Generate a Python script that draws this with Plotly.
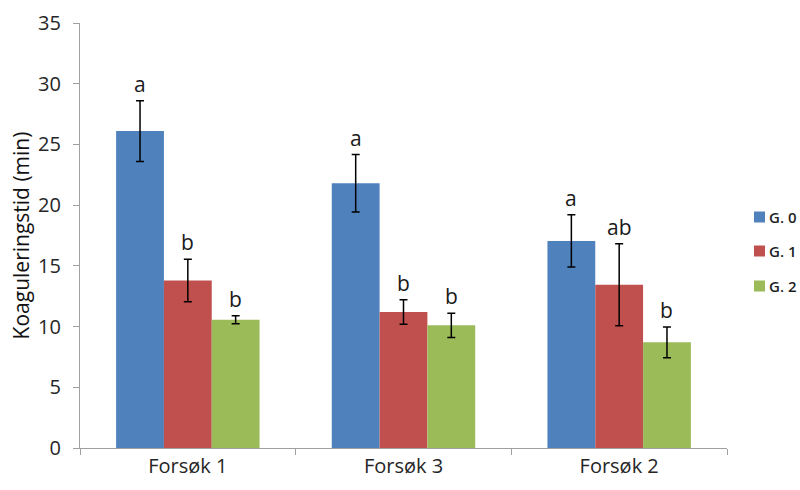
import plotly.graph_objects as go

categories = ["Forsøk 1", "Forsøk 3", "Forsøk 2"]
series_names = ["G. 0", "G. 1", "G. 2"]
values = {
    "G. 0": [26.1, 21.8, 17.05],
    "G. 1": [13.8, 11.2, 13.45],
    "G. 2": [10.57, 10.1, 8.7],
}
errors = {
    "G. 0": [2.5, 2.37, 2.15],
    "G. 1": [1.75, 1.0, 3.38],
    "G. 2": [0.33, 1.0, 1.27],
}
letters = {
    "G. 0": ["a", "a", "a"],
    "G. 1": ["b", "b", "ab"],
    "G. 2": ["b", "b", "b"],
}
colors = {"G. 0": "#4F81BD", "G. 1": "#C0504D", "G. 2": "#9BBB59"}

FONT = "'Open Sans', sans-serif"
BARGAP = 0.335
W, H = 800, 490
M = dict(l=80, r=73, t=23, b=42)
PW = W - M["l"] - M["r"]
PH = H - M["t"] - M["b"]

fig = go.Figure()
for i, name in enumerate(series_names):
    fig.add_trace(go.Bar(
        x=categories,
        y=values[name],
        name=name,
        showlegend=False,
        marker=dict(color=colors[name], line=dict(width=0)),
        error_y=dict(type="data", array=errors[name], color="black",
                     thickness=1.5, width=4),
        offsetgroup=str(i),
    ))

# Significance letters above each error bar
n = len(series_names)
group_frac = 1 - BARGAP
for i, name in enumerate(series_names):
    for j, cat in enumerate(categories):
        top = values[name][j] + errors[name][j]
        offset = -group_frac / 2 + group_frac / n * (i + 0.5)
        fig.add_annotation(
            x=j + offset, y=top, xref="x", yref="y",
            text=letters[name][j], showarrow=False,
            yanchor="bottom", yshift=1,
            font=dict(family=FONT, size=21, color="#1a1a1a"),
        )

# Legend drawn at the right: square swatch + label per series
def px_x(p):
    return (p - M["l"]) / PW

def px_y(p):
    return (H - M["b"] - p) / PH

legend_rows = [217, 251, 286]
for name, yc in zip(series_names, legend_rows):
    fig.add_shape(
        type="rect", xref="paper", yref="paper",
        x0=px_x(754), x1=px_x(765), y0=px_y(yc + 5.5), y1=px_y(yc - 5.5),
        fillcolor=colors[name], line=dict(width=0),
    )
    fig.add_annotation(
        x=px_x(767), y=px_y(yc), xref="paper", yref="paper",
        text=name, showarrow=False, xanchor="left", yanchor="middle",
        font=dict(family=FONT, size=15, color="#1f1f1f", weight=600),
    )

fig.update_layout(
    width=W, height=H,
    barmode="group",
    bargap=BARGAP,
    bargroupgap=0,
    showlegend=False,
    margin=dict(**M, autoexpand=False),
    plot_bgcolor="white",
    paper_bgcolor="white",
    font=dict(family=FONT, color="#262626"),
    xaxis=dict(
        showline=True, linecolor="#A0A0A0", linewidth=1.3,
        ticks="outside", tickson="boundaries", ticklen=6, tickcolor="#A0A0A0",
        tickfont=dict(family=FONT, size=20, color="#262626"),
        showgrid=False,
    ),
    yaxis=dict(
        range=[0, 35], dtick=5,
        showline=True, linecolor="#A0A0A0", linewidth=1.3,
        ticks="outside", ticklen=6, tickcolor="#A0A0A0",
        ticklabelstandoff=8,
        tickfont=dict(family=FONT, size=20, color="#262626"),
        showgrid=False, zeroline=False,
        title=dict(text="Koaguleringstid (min)",
                   font=dict(family=FONT, size=21, color="#111111"),
                   standoff=2),
    ),
)

fig.write_html("out.html")
